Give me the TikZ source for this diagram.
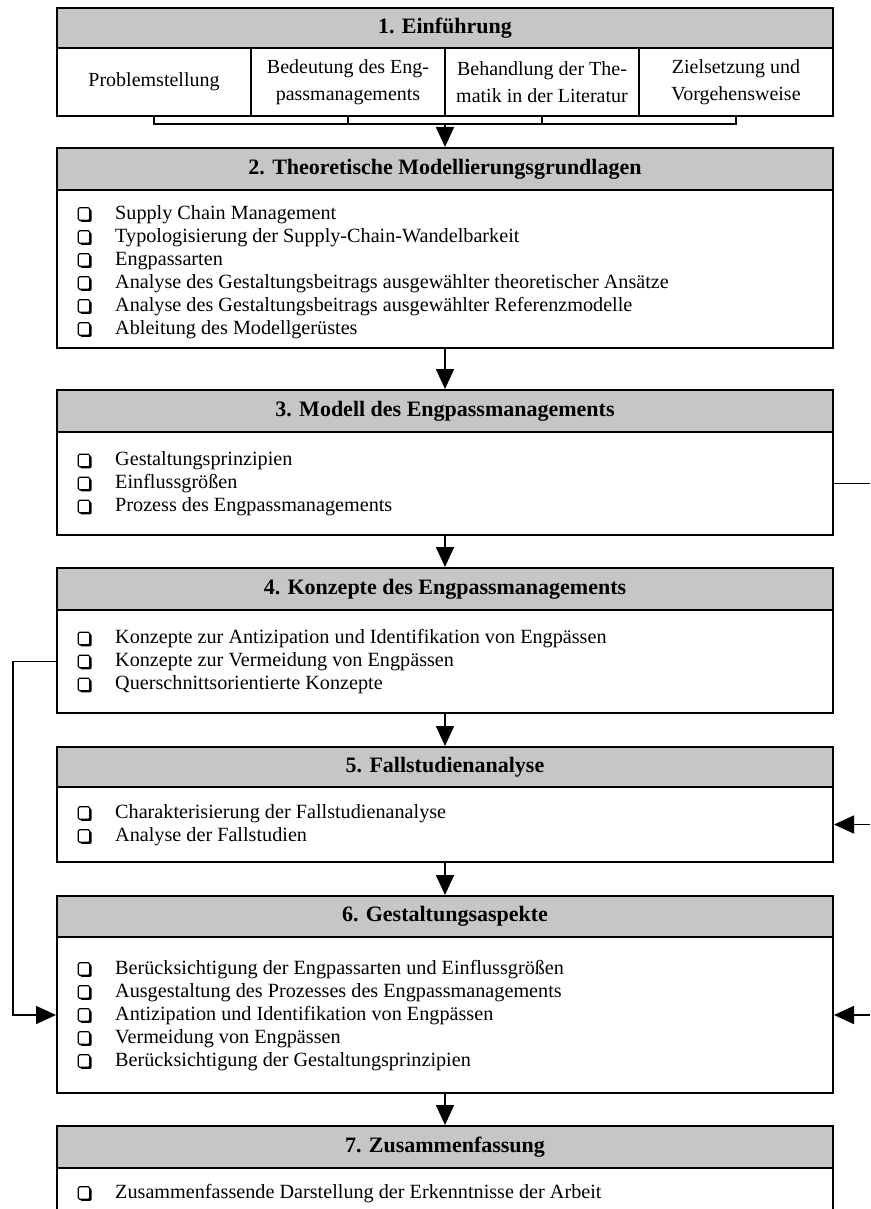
\documentclass[tikz,border=0pt]{standalone}
\usepackage{fontspec}
\setmainfont{Liberation Serif}
\usetikzlibrary{arrows.meta,shadows}
\begin{document}
\begin{tikzpicture}[x=1pt,y=-1pt,
  boxline/.style={draw=black, line width=2pt},
  head/.style={boxline, fill=gray!45, minimum width=776pt, inner sep=0pt, font=\fontsize{22}{26}\selectfont\bfseries},
  body/.style={boxline, fill=white, minimum width=776pt, inner sep=0pt},
  sub/.style={boxline, fill=white, minimum width=194pt, minimum height=68pt, inner sep=0pt, align=center, font=\fontsize{20}{27}\selectfont},
  item/.style={anchor=west, inner sep=0pt, text height=14pt, text depth=4pt, font=\fontsize{20.2}{23}\selectfont},
  cbox/.style={draw=black, fill=white, line width=1.1pt, minimum width=11.5pt, minimum height=12.5pt, inner sep=0pt, rounded corners=1.4pt, drop shadow={shadow xshift=1.8pt, shadow yshift=-1.6pt, opacity=1, fill=black}},
  tip/.style={-{Triangle[width=18pt,length=20pt]}},
  arr/.style={line width=1.8pt, tip},
  conn/.style={line width=1.6pt}
]
\useasboundingbox (0,0) rectangle (870,1209);
\begin{scope}
\clip (0,0) rectangle (870,1209);

% Box 1
\node[head, minimum height=40pt] (h1) at (445,28) {1. Einführung};
\node[sub] (s1) at (154,82) {Problemstellung};
\node[sub] (s2) at (348,82) {Bedeutung des Eng-\\passmanagements};
\node[sub] (s3) at (542,82) {Behandlung der The-\\matik in der Literatur};
\node[sub] (s4) at (736,82) {Zielsetzung und\\Vorgehensweise};
\coordinate (bk) at (445,124);
\draw[conn] (s1.south) -- (s1.south |- bk) -- (s4.south |- bk) -- (s4.south);
\draw[conn] (s2.south) -- (s2.south |- bk);
\draw[conn] (s3.south) -- (s3.south |- bk);

% Box 2
\node[body, minimum height=158pt] (b2) at (445,269) {};
\node[head, minimum height=42pt] (h2) at (445,169) {2. Theoretische Modellierungsgrundlagen};
\foreach \t [count=\i] in {Supply Chain Management, Typologisierung der Supply-Chain-Wandelbarkeit, Engpassarten, Analyse des Gestaltungsbeitrags ausgewählter theoretischer Ansätze, Analyse des Gestaltungsbeitrags ausgewählter Referenzmodelle, Ableitung des Modellgerüstes}{
  \node[cbox] (k2-\i) at (84,191+23*\i) {};
  \node[item] (t2-\i) at (115,191+23*\i) {\t};
}

% Box 3
\node[body, minimum height=103pt] (b3) at (445,483.5) {};
\node[head, minimum height=42pt] (h3) at (445,411) {3. Modell des Engpassmanagements};
\foreach \t [count=\i] in {Gestaltungsprinzipien, Einflussgrößen, Prozess des Engpassmanagements}{
  \node[cbox] (k3-\i) at (84,437.5+23*\i) {};
  \node[item] (t3-\i) at (115,437.5+23*\i) {\t};
}

% Box 4
\node[body, minimum height=103pt] (b4) at (445,661.5) {};
\node[head, minimum height=42pt] (h4) at (445,589) {4. Konzepte des Engpassmanagements};
\foreach \t [count=\i] in {Konzepte zur Antizipation und Identifikation von Engpässen, Konzepte zur Vermeidung von Engpässen, Querschnittsorientierte Konzepte}{
  \node[cbox] (k4-\i) at (84,615.5+23*\i) {};
  \node[item] (t4-\i) at (115,615.5+23*\i) {\t};
}

% Box 5
\node[body, minimum height=75pt] (b5) at (445,824.5) {};
\node[head, minimum height=40pt] (h5) at (445,767) {5. Fallstudienanalyse};
\foreach \t [count=\i] in {Charakterisierung der Fallstudienanalyse, Analyse der Fallstudien}{
  \node[cbox] (k5-\i) at (84,790+23*\i) {};
  \node[item] (t5-\i) at (115,790+23*\i) {\t};
}

% Box 6
\node[body, minimum height=156pt] (b6) at (445,1015) {};
\node[head, minimum height=41pt] (h6) at (445,916.5) {6. Gestaltungsaspekte};
\foreach \t [count=\i] in {Berücksichtigung der Engpassarten und Einflussgrößen, Ausgestaltung des Prozesses des Engpassmanagements, Antizipation und Identifikation von Engpässen, Vermeidung von Engpässen, Berücksichtigung der Gestaltungsprinzipien}{
  \node[cbox] (k6-\i) at (84,946+23*\i) {};
  \node[item] (t6-\i) at (115,946+23*\i) {\t};
}

% Box 7
\node[body, minimum height=62pt] (b7) at (445,1199) {};
\node[head, minimum height=42pt] (h7) at (445,1147) {7. Zusammenfassung};
\node[cbox] (k7-1) at (84,1193) {};
\node[item] (t7-1) at (115,1193) {Zusammenfassende Darstellung der Erkenntnisse der Arbeit};

% vertical arrows
\draw[arr] (bk) -- (h2.north);
\draw[arr] (b2.south) -- (h3.north);
\draw[arr] (b3.south) -- (h4.north);
\draw[arr] (b4.south) -- (h5.north);
\draw[arr] (b5.south) -- (h6.north);
\draw[arr] (b6.south) -- (h7.north);

% right side connectors
\coordinate (r3) at (870,483.5);
\coordinate (r5) at (870,824.5);
\coordinate (r6) at (870,1015);
\draw[line width=1.2pt] (b3.east) -- (r3);
\draw[conn, tip] (r5) -- (b5.east);
\draw[conn, tip] (r6) -- (b6.east);

% left side connector
\coordinate (lx) at (13,0);
\draw[conn, tip] (b4.west) -- (b4.west -| lx) -- (b6.west -| lx) -- (b6.west);
\end{scope}
\end{tikzpicture}
\end{document}
